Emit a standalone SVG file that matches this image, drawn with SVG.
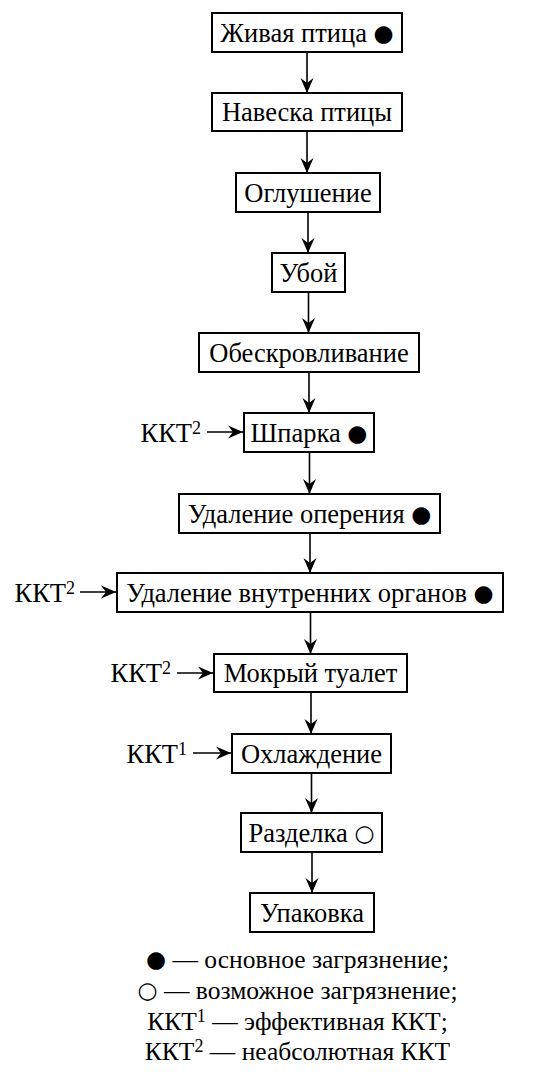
<svg xmlns="http://www.w3.org/2000/svg" width="551" height="1079" viewBox="0 0 551 1079">
<defs>
<style>
.box{fill:#fff;stroke:#000;stroke-width:2}
.t{font-family:"Liberation Serif","DejaVu Serif",serif;font-size:26.5px;fill:#000;text-anchor:middle}
.k{font-family:"Liberation Serif","DejaVu Serif",serif;font-size:26.5px;fill:#000;text-anchor:end}
.l{font-size:25.5px}
.sup{font-size:18px}
.d{font-family:"DejaVu Sans",sans-serif;font-size:23px}
.c{stroke:#000;stroke-width:1.6;fill:none;marker-end:url(#ah)}
</style>
<marker id="ah" markerUnits="userSpaceOnUse" markerWidth="16" markerHeight="14" viewBox="-15 -7 16 14" refX="0" refY="0" orient="auto">
<path d="M0,0 L-15,-6.5 L-10,0 L-15,6.5 Z" fill="#000"/>
</marker>
</defs>
<rect width="551" height="1079" fill="#fff"/>
<g id="connectors">
<line class="c" x1="307" y1="52" x2="307" y2="93"/>
<line class="c" x1="307" y1="131" x2="307" y2="173"/>
<line class="c" x1="308" y1="212" x2="308" y2="253"/>
<line class="c" x1="308.5" y1="292" x2="308.5" y2="333"/>
<line class="c" x1="309" y1="372" x2="309" y2="413"/>
<line class="c" x1="309.5" y1="452" x2="309.5" y2="494"/>
<line class="c" x1="310" y1="533" x2="310" y2="573"/>
<line class="c" x1="310.5" y1="612" x2="310.5" y2="654"/>
<line class="c" x1="311" y1="692" x2="311" y2="734"/>
<line class="c" x1="311.5" y1="773" x2="311.5" y2="813"/>
<line class="c" x1="312" y1="852" x2="312" y2="893"/>
<line class="c" x1="207" y1="432" x2="243" y2="432"/>
<line class="c" x1="80" y1="592" x2="116" y2="592"/>
<line class="c" x1="177" y1="673" x2="213" y2="673"/>
<line class="c" x1="193" y1="753" x2="231" y2="753"/>
</g>
<g id="n1"><rect class="box" x="212" y="13" width="190" height="39"/><text class="t" x="307" y="42">Живая птица <tspan class="d" dy="-1">●</tspan></text></g>
<g id="n2"><rect class="box" x="212" y="93" width="190" height="38"/><text class="t" x="307" y="121">Навеска птицы</text></g>
<g id="n3"><rect class="box" x="236" y="173" width="144" height="39"/><text class="t" x="308" y="202">Оглушение</text></g>
<g id="n4"><rect class="box" x="272" y="253" width="73" height="39"/><text class="t" x="308.5" y="282">Убой</text></g>
<g id="n5"><rect class="box" x="199" y="333" width="220" height="39"/><text class="t" x="309" y="362">Обескровливание</text></g>
<g id="n6"><rect class="box" x="244" y="413" width="130" height="39"/><text class="t" x="309" y="442">Шпарка <tspan class="d" dy="-1">●</tspan></text>
<text class="k" x="201" y="442">ККТ<tspan class="sup" dy="-8">2</tspan></text></g>
<g id="n7"><rect class="box" x="179" y="494" width="261" height="39"/><text class="t" x="309.5" y="523">Удаление оперения <tspan class="d" dy="-1">●</tspan></text></g>
<g id="n8"><rect class="box" x="117" y="573" width="386" height="39"/><text class="t" x="310" y="602">Удаление внутренних органов <tspan class="d" dy="-1">●</tspan></text>
<text class="k" x="75" y="602">ККТ<tspan class="sup" dy="-8">2</tspan></text></g>
<g id="n9"><rect class="box" x="214" y="654" width="193" height="38"/><text class="t" x="310.5" y="682">Мокрый туалет</text>
<text class="k" x="171" y="682">ККТ<tspan class="sup" dy="-8">2</tspan></text></g>
<g id="n10"><rect class="box" x="232" y="734" width="159" height="39"/><text class="t" x="311.5" y="763">Охлаждение</text>
<text class="k" x="187" y="763">ККТ<tspan class="sup" dy="-8">1</tspan></text></g>
<g id="n11"><rect class="box" x="241" y="813" width="141" height="39"/><text class="t" x="311.5" y="842">Разделка <tspan class="d" dy="-1">○</tspan></text></g>
<g id="n12"><rect class="box" x="250" y="893" width="124" height="39"/><text class="t" x="312" y="922">Упаковка</text></g>
<g id="legend">
<text class="t l" x="297.5" y="968"><tspan class="d" dy="-1">●</tspan><tspan dy="1"> — основное загрязнение;</tspan></text>
<text class="t l" x="297.5" y="999"><tspan class="d" dy="-1">○</tspan><tspan dy="1"> — возможное загрязнение;</tspan></text>
<text class="t l" x="297.5" y="1030">ККТ<tspan class="sup" dy="-8">1</tspan><tspan dy="8"> — эффективная ККТ;</tspan></text>
<text class="t l" x="297.5" y="1060">ККТ<tspan class="sup" dy="-8">2</tspan><tspan dy="8"> — неабсолютная ККТ</tspan></text>
</g>
</svg>
